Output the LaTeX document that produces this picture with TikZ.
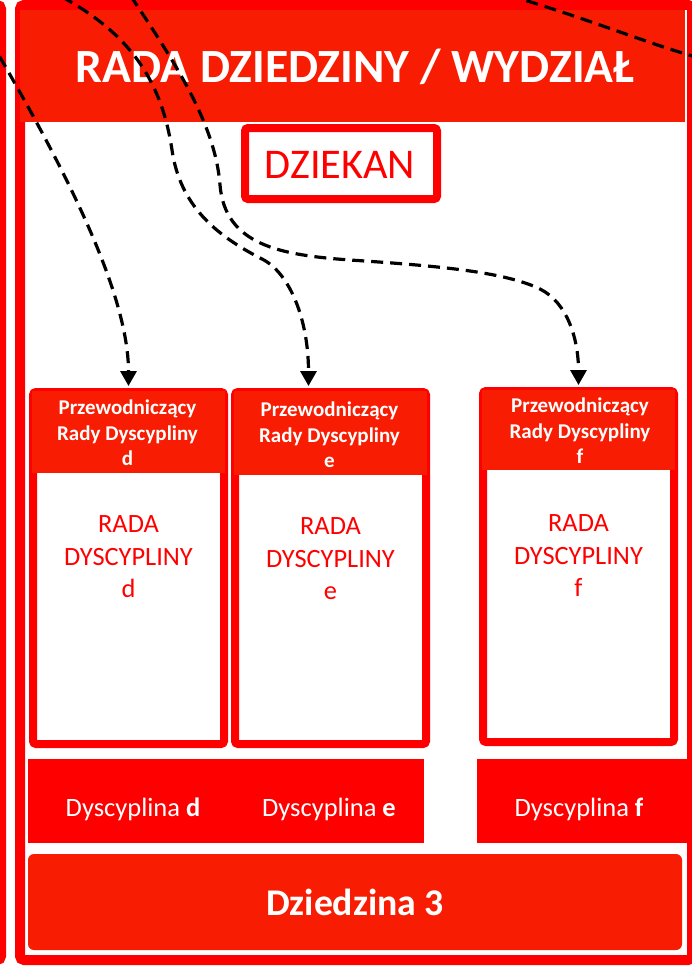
\documentclass[tikz,border=0pt]{standalone}
\usepackage{fontspec}
\setmainfont{Carlito}
\usetikzlibrary{arrows.meta}
\definecolor{brd}{RGB}{255,0,0}
\definecolor{hdr}{RGB}{247,28,2}
\tikzset{
 dasharrow/.style={draw=black, line width=3.2pt, dash pattern=on 12pt off 7pt, -{Triangle[width=16pt,length=15pt]}},
 dashline/.style={draw=black, line width=3.2pt, dash pattern=on 12pt off 7pt},
 chairbox/.style={draw=brd, line width=8pt, rounded corners=3pt, minimum width=191pt, minimum height=352pt, fill=white, inner sep=0pt},
 chairhead/.style={text=white, font=\fontsize{21}{25.5}\selectfont\bfseries, align=center, inner sep=0pt},
 council/.style={text=brd, font=\fontsize{26.4}{32.5}\selectfont, align=center, inner sep=0pt},
 discl/.style={text=white, font=\fontsize{26.5}{30}\selectfont, inner sep=0pt, anchor=base},
 bigtitle/.style={anchor=base, text=white, font=\fontsize{47.7}{52}\selectfont\bfseries, inner sep=0pt},
}
\begin{document}
\begin{tikzpicture}[x=1pt,y=-1pt]
\useasboundingbox (0,0) rectangle (692,966);
\clip (0,0) rectangle (692,966);
\fill[white] (0,0) rectangle (692,966);
% neighbouring frame strip
\draw[brd, line width=10pt, rounded corners=4pt] (-300,5) rectangle (1,960);
% main frame
\draw[brd, line width=10pt, rounded corners=4pt] (20,5) rectangle (692,960);
\fill[hdr] (20,10) rectangle (685,122);
\node[bigtitle] (title) at (355,82) {RADA DZIEDZINY / WYDZIAŁ};
% dziekan
\node[draw=brd, line width=8pt, rounded corners=3pt, minimum width=192pt, minimum height=71pt, inner sep=0pt] (dziekan) at (341,163.5) {};
\node[anchor=base, text=brd, font=\fontsize{42.3}{46}\selectfont, inner sep=0pt] (dziekanT) at (340,178) {DZIEKAN};
% chair boxes
\node[chairbox] (dP) at (128.5,568) {};
\node[chairbox] (eP) at (330.5,568) {};
\node[chairbox, minimum height=351pt] (fP) at (578.5,566.5) {};
\fill[hdr] (32,391) rectangle (225,473);
\fill[hdr] (234,391) rectangle (427,475);
\fill[hdr] (482,390) rectangle (675,470);
\node[chairhead] (dH) at (127.5,433) {Przewodniczący\\Rady Dyscypliny\\d};
\node[chairhead] (eH) at (329.5,435) {Przewodniczący\\Rady Dyscypliny\\e};
\node[chairhead] (fH) at (580,431) {Przewodniczący\\Rady Dyscypliny\\f};
\node[council] (dR) at (128.5,557) {RADA\\DYSCYPLINY\\d};
\node[council] (eR) at (330.5,559) {RADA\\DYSCYPLINY\\e};
\node[council] (fR) at (578.5,556) {RADA\\DYSCYPLINY\\f};
% discipline bars
\fill[brd] (28,759) rectangle (424,843);
\fill[brd] (477,759) rectangle (687,843);
\node[discl] (dD) at (133,816) {Dyscyplina \textbf{d}};
\node[discl] (eD) at (329,816) {Dyscyplina \textbf{e}};
\node[discl] (fD) at (579,816) {Dyscyplina \textbf{f}};
% domain
\node[fill=hdr, rounded corners=6pt, minimum width=654pt, minimum height=96pt, inner sep=0pt, text=white, font=\fontsize{37.7}{42}\selectfont\bfseries] (dz) at (355,902) {Dziedzina 3};
% dashed connectors
\coordinate (s1) at (-10,40);
\coordinate (s2) at (45,-12);
\coordinate (s3) at (120,-20);
\coordinate (s4) at (490,-10);
\coordinate (e4) at (700,58);
\draw[dasharrow] (s1) .. controls (60,160) and (128.5,290) .. ([yshift=2pt]dP.north);
\draw[dasharrow] (s2) .. controls (120,25) and (160,70) .. (172,150) .. controls (180,205) and (215,235) .. (262,259) .. controls (290,273) and (308.5,320) .. ([xshift=-22pt,yshift=2pt]eP.north);
\draw[dasharrow] (s3) .. controls (170,55) and (215,120) .. (220,185) .. controls (225,245) and (280,255) .. (350,260) .. controls (440,266) and (505,272) .. (540,289) .. controls (568,303) and (578.5,340) .. ([yshift=2pt]fP.north);
\draw[dashline] (s4) .. controls (580,15) and (650,45) .. (e4);
\end{tikzpicture}
\end{document}
